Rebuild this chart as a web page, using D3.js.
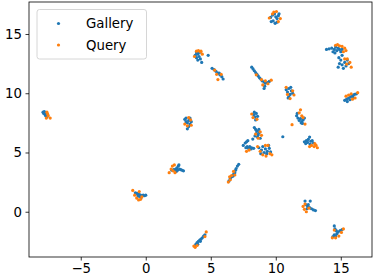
<!DOCTYPE html>
<html>
<head>
<meta charset="utf-8">
<script src="https://cdn.jsdelivr.net/npm/d3@7"></script>
<style>
  body { margin: 0; background: #fff; }
  svg { display: block; font-family: "DejaVu Sans", sans-serif; }
</style>
</head>
<body>
<script>
// embedding coordinates
const gallery = [
  [-7.9,8.4],[-7.85,8.3],[-7.8,8.45],[-7.75,8.2],[-7.7,8.1],[-7.65,8.3],[-7.6,8.0],[-7.55,8.2],[-7.7,8.35],
  [-0.8,1.6],[-0.7,1.55],[-0.6,1.5],[-0.5,1.45],[-0.4,1.4],[-0.3,1.35],[-0.2,1.4],[-0.1,1.35],[0,1.4],[-0.5,1.3],[-0.35,1.2],[-0.6,1.35],
  [2.0,3.5],[2.15,3.55],[2.3,3.6],[2.4,3.7],[2.5,3.85],[2.55,3.95],[2.6,3.6],[2.7,3.55],[2.8,3.5],[2.9,3.45],[2.45,3.5],[2.35,3.4],
  [3.0,7.8],[3.1,7.6],[3.2,7.5],[3.3,7.7],[3.4,7.4],[3.3,7.2],[3.2,7.0],[3.5,7.6],[3.1,7.9],[3.4,7.9],
  [3.8,13.2],[3.9,13.0],[4.0,13.3],[4.1,13.1],[4.2,12.9],[4.3,12.6],[4.0,12.8],[3.9,13.4],[4.8,13.2],[4.15,13.45],
  [5.1,12.1],[5.25,12.0],[5.4,11.85],[5.55,11.7],[5.7,11.55],[5.85,11.4],[5.95,11.2],[5.65,11.7],
  [8.15,12.2],[8.25,12.05],[8.35,11.9],[8.45,11.75],[8.55,11.6],[8.65,11.45],[8.75,11.3],[8.85,11.2],[8.95,11.05],[9.1,10.95],[9.2,10.85],[9.15,10.6],[9.1,10.4],[9.35,10.9],[9.5,11.0],
  [9.6,16.4],[9.75,16.6],[9.9,16.7],[10.0,16.45],[10.1,16.3],[10.2,16.55],[9.8,16.1],[9.95,15.9],[10.1,16.0],[9.65,16.05],[10.25,16.7],
  [13.9,13.7],[14.1,13.75],[14.3,13.8],[14.5,13.7],[14.6,13.9],[14.7,13.6],[14.8,13.8],[14.9,13.7],[15.0,13.5],[14.4,13.5],[15.1,13.7],[14.55,13.4],
  [14.85,13.0],[15.0,12.8],[14.9,12.5],[15.1,12.4],[15.3,12.6],[15.4,12.3],[15.2,12.1],[14.8,12.2],[15.5,12.8],[15.1,13.2],[15.6,12.5],
  [15.3,9.4],[15.45,9.5],[15.6,9.6],[15.75,9.7],[15.9,9.8],[16.05,9.9],[15.5,9.3],[15.7,9.45],[15.95,9.65],[16.2,9.95],
  [10.8,10.3],[10.9,10.1],[11.0,10.4],[11.1,9.9],[11.2,10.2],[11.0,9.7],[11.3,10.0],[10.95,9.6],[11.15,10.5],
  [11.6,8.1],[11.7,7.9],[11.8,7.7],[11.9,7.85],[12.0,7.6],[12.1,7.75],[12.2,7.9],[11.95,7.5],[11.65,8.3],[12.05,7.45],
  [12.2,5.9],[12.35,6.0],[12.5,6.1],[12.6,6.3],[12.7,5.95],[12.8,6.0],[12.45,5.85],[12.9,5.8],[12.65,5.7],[12.3,5.75],
  [10.54,6.33],
  [8.3,8.2],[8.4,8.0],[8.5,8.3],[8.6,8.05],[8.45,7.75],[8.35,8.4],
  [8.35,7.1],[8.45,6.95],[8.55,6.8],[8.5,6.6],[8.65,6.5],[8.75,6.7],[8.6,6.3],[8.4,6.4],[8.8,6.2],[8.7,6.95],[8.23,6.13],
  [7.5,5.6],[7.65,5.8],[7.75,5.9],[7.8,5.5],[7.9,5.35],[8.0,5.5],[8.15,5.4],[8.3,5.35],[7.7,5.4],[7.85,6.0],[8.1,5.3],
  [8.7,5.4],[8.9,5.2],[9.0,5.5],[9.1,5.0],[9.2,5.3],[9.3,4.9],[9.35,5.1],[9.45,5.6],[9.5,5.35],[8.85,4.9],[9.6,5.05],
  [7.15,4.0],[7.05,3.85],[6.95,3.65],[6.9,3.5],[6.85,3.3],[6.75,3.15],[6.6,2.95],[6.5,2.8],[6.4,2.6],[6.7,3.0],
  [3.85,-2.75],[3.95,-2.6],[4.05,-2.5],[4.15,-2.4],[4.25,-2.3],[4.35,-2.2],[4.45,-2.05],[4.55,-1.95],[4.0,-2.75],[4.2,-2.5],
  [12.25,0.9],[12.3,0.6],[12.45,0.45],[12.6,0.35],[12.75,0.25],[12.9,0.15],[13.05,0.1],[12.65,0.9],[12.5,0.6],[12.4,0.25],
  [14.5,-1.2],[14.55,-1.45],[14.65,-1.6],[14.8,-1.7],[14.95,-1.6],[14.7,-1.85],[14.5,-1.95],[14.4,-2.1],[14.6,-2.05],[15.1,-1.5]
];

const query = [
  [-7.6,8.4],[-7.5,8.1],[-7.65,7.9],[-7.35,7.9],[-7.55,8.25],
  [-1.0,1.8],[-0.85,1.4],[-0.7,1.15],[-0.55,1.0],[-0.4,1.05],[-0.5,1.7],[-0.3,1.25],
  [1.8,3.3],[1.95,3.6],[2.05,3.85],[2.2,3.95],[2.25,3.3],[2.1,3.45],
  [3.0,7.4],[3.3,7.95],[3.5,7.3],[3.2,7.25],[3.45,7.75],
  [3.9,13.55],[4.05,13.6],[4.2,13.5],[4.35,13.3],[3.75,13.1],[4.25,13.55],
  [5.45,11.6],[5.8,11.6],[5.55,11.15],[5.3,11.95],
  [8.5,11.55],[8.9,11.15],[9.2,11.05],[9.65,11.1],[9.4,10.8],[9.0,10.7],
  [9.5,16.35],[9.85,16.85],[10.05,16.9],[10.35,16.3],[9.75,16.7],[10.2,16.05],
  [14.6,14.05],[14.9,14.0],[15.1,13.95],[15.3,13.8],[15.4,13.6],[14.75,14.1],[15.2,13.5],
  [15.5,12.9],[15.7,12.6],[15.8,12.2],[15.45,12.45],[15.3,12.9],
  [15.6,9.85],[15.8,9.95],[16.3,10.05],[16.1,9.6],[15.9,9.5],[15.4,9.75],
  [10.8,10.5],[11.3,10.2],[11.4,9.85],[11.1,9.55],[10.9,9.9],
  [11.9,8.6],[11.8,8.35],[12.0,8.1],[11.25,7.35],[12.25,7.4],[12.1,7.95],
  [12.75,5.6],[12.95,5.5],[13.1,5.6],[13.2,5.4],[13.0,5.75],[12.6,5.5],
  [8.15,8.25],[8.55,7.8],[8.25,7.95],
  [8.9,6.45],[8.8,6.75],[8.65,6.2],[8.45,6.55],
  [7.75,5.1],[7.95,5.2],
  [8.6,5.5],[8.8,5.1],[9.0,4.8],[9.25,4.7],[9.55,4.9],[9.7,4.8],[9.4,5.6],[9.2,5.6],
  [6.35,2.5],[6.5,2.7],[6.6,3.05],[6.75,3.4],[6.85,3.1],[6.45,2.95],
  [3.7,-2.9],[3.8,-3.0],[3.95,-2.85],[4.65,-1.7],[4.55,-2.1],
  [12.1,0.45],[12.2,0.2],[12.35,0.0],[12.55,0.3],[12.25,0.65],
  [14.35,-2.2],[14.6,-2.2],[14.85,-2.05],[15.2,-1.45],[15.05,-1.75],[14.5,-1.55]
];

const xTicks = [-5, 0, 5, 10, 15];
const yTicks = [0, 5, 10, 15];
const seriesNames = ["Gallery", "Query"];
const colors = ["#1f77b4", "#ff7f0e"];

const W = 374, H = 280;
const m = { left: 29, right: 372, top: 2, bottom: 257 };

const svg = d3.select("body").append("svg")
  .attr("width", W).attr("height", H);

const x = d3.scaleLinear().domain([-8.98, 17.4]).range([m.left, m.right]);
const y = d3.scaleLinear().domain([-3.82, 17.7]).range([m.bottom, m.top]);

const fmt = d => String(d).replace("-", "\u2212");

// axes
const xAxis = svg.append("g")
  .attr("transform", `translate(0,${m.bottom})`)
  .call(d3.axisBottom(x).tickValues(xTicks).tickSize(3.5).tickPadding(3.5).tickFormat(fmt));
const yAxis = svg.append("g")
  .attr("transform", `translate(${m.left},0)`)
  .call(d3.axisLeft(y).tickValues(yTicks).tickSize(3.5).tickPadding(3.5).tickFormat(fmt));

[xAxis, yAxis].forEach(a => {
  a.select(".domain").remove();
  a.selectAll("line").attr("stroke", "#000").attr("stroke-width", 0.8);
  a.selectAll("text").attr("fill", "#000")
    .style("font-size", "13.3px").style("font-family", "DejaVu Sans");
});

// points
const plot = svg.append("g");
[gallery, query].forEach((data, i) => {
  plot.selectAll(null)
    .data(data)
    .enter()
    .append("circle")
    .attr("cx", d => x(d[0]))
    .attr("cy", d => y(d[1]))
    .attr("r", 1.6)
    .attr("fill", colors[i]);
});

// frame
svg.append("rect")
  .attr("x", m.left).attr("y", m.top)
  .attr("width", m.right - m.left).attr("height", m.bottom - m.top)
  .attr("fill", "none").attr("stroke", "#000").attr("stroke-width", 0.8);

// legend
const lg = svg.append("g");
lg.append("rect")
  .attr("x", 37).attr("y", 9.5)
  .attr("width", 109.5).attr("height", 49.5)
  .attr("rx", 2.5)
  .attr("fill", "#fff").attr("fill-opacity", 0.8)
  .attr("stroke", "#cccccc").attr("stroke-width", 0.8);

seriesNames.forEach((name, i) => {
  const cy = 23.5 + i * 21.5;
  lg.append("circle")
    .attr("cx", 58.5).attr("cy", cy).attr("r", 1.6)
    .attr("fill", colors[i]);
  lg.append("text")
    .attr("x", 86).attr("y", cy + 4.8)
    .attr("fill", "#000")
    .style("font-size", "13.3px")
    .style("font-family", "DejaVu Sans")
    .text(name);
});
</script>
</body>
</html>
